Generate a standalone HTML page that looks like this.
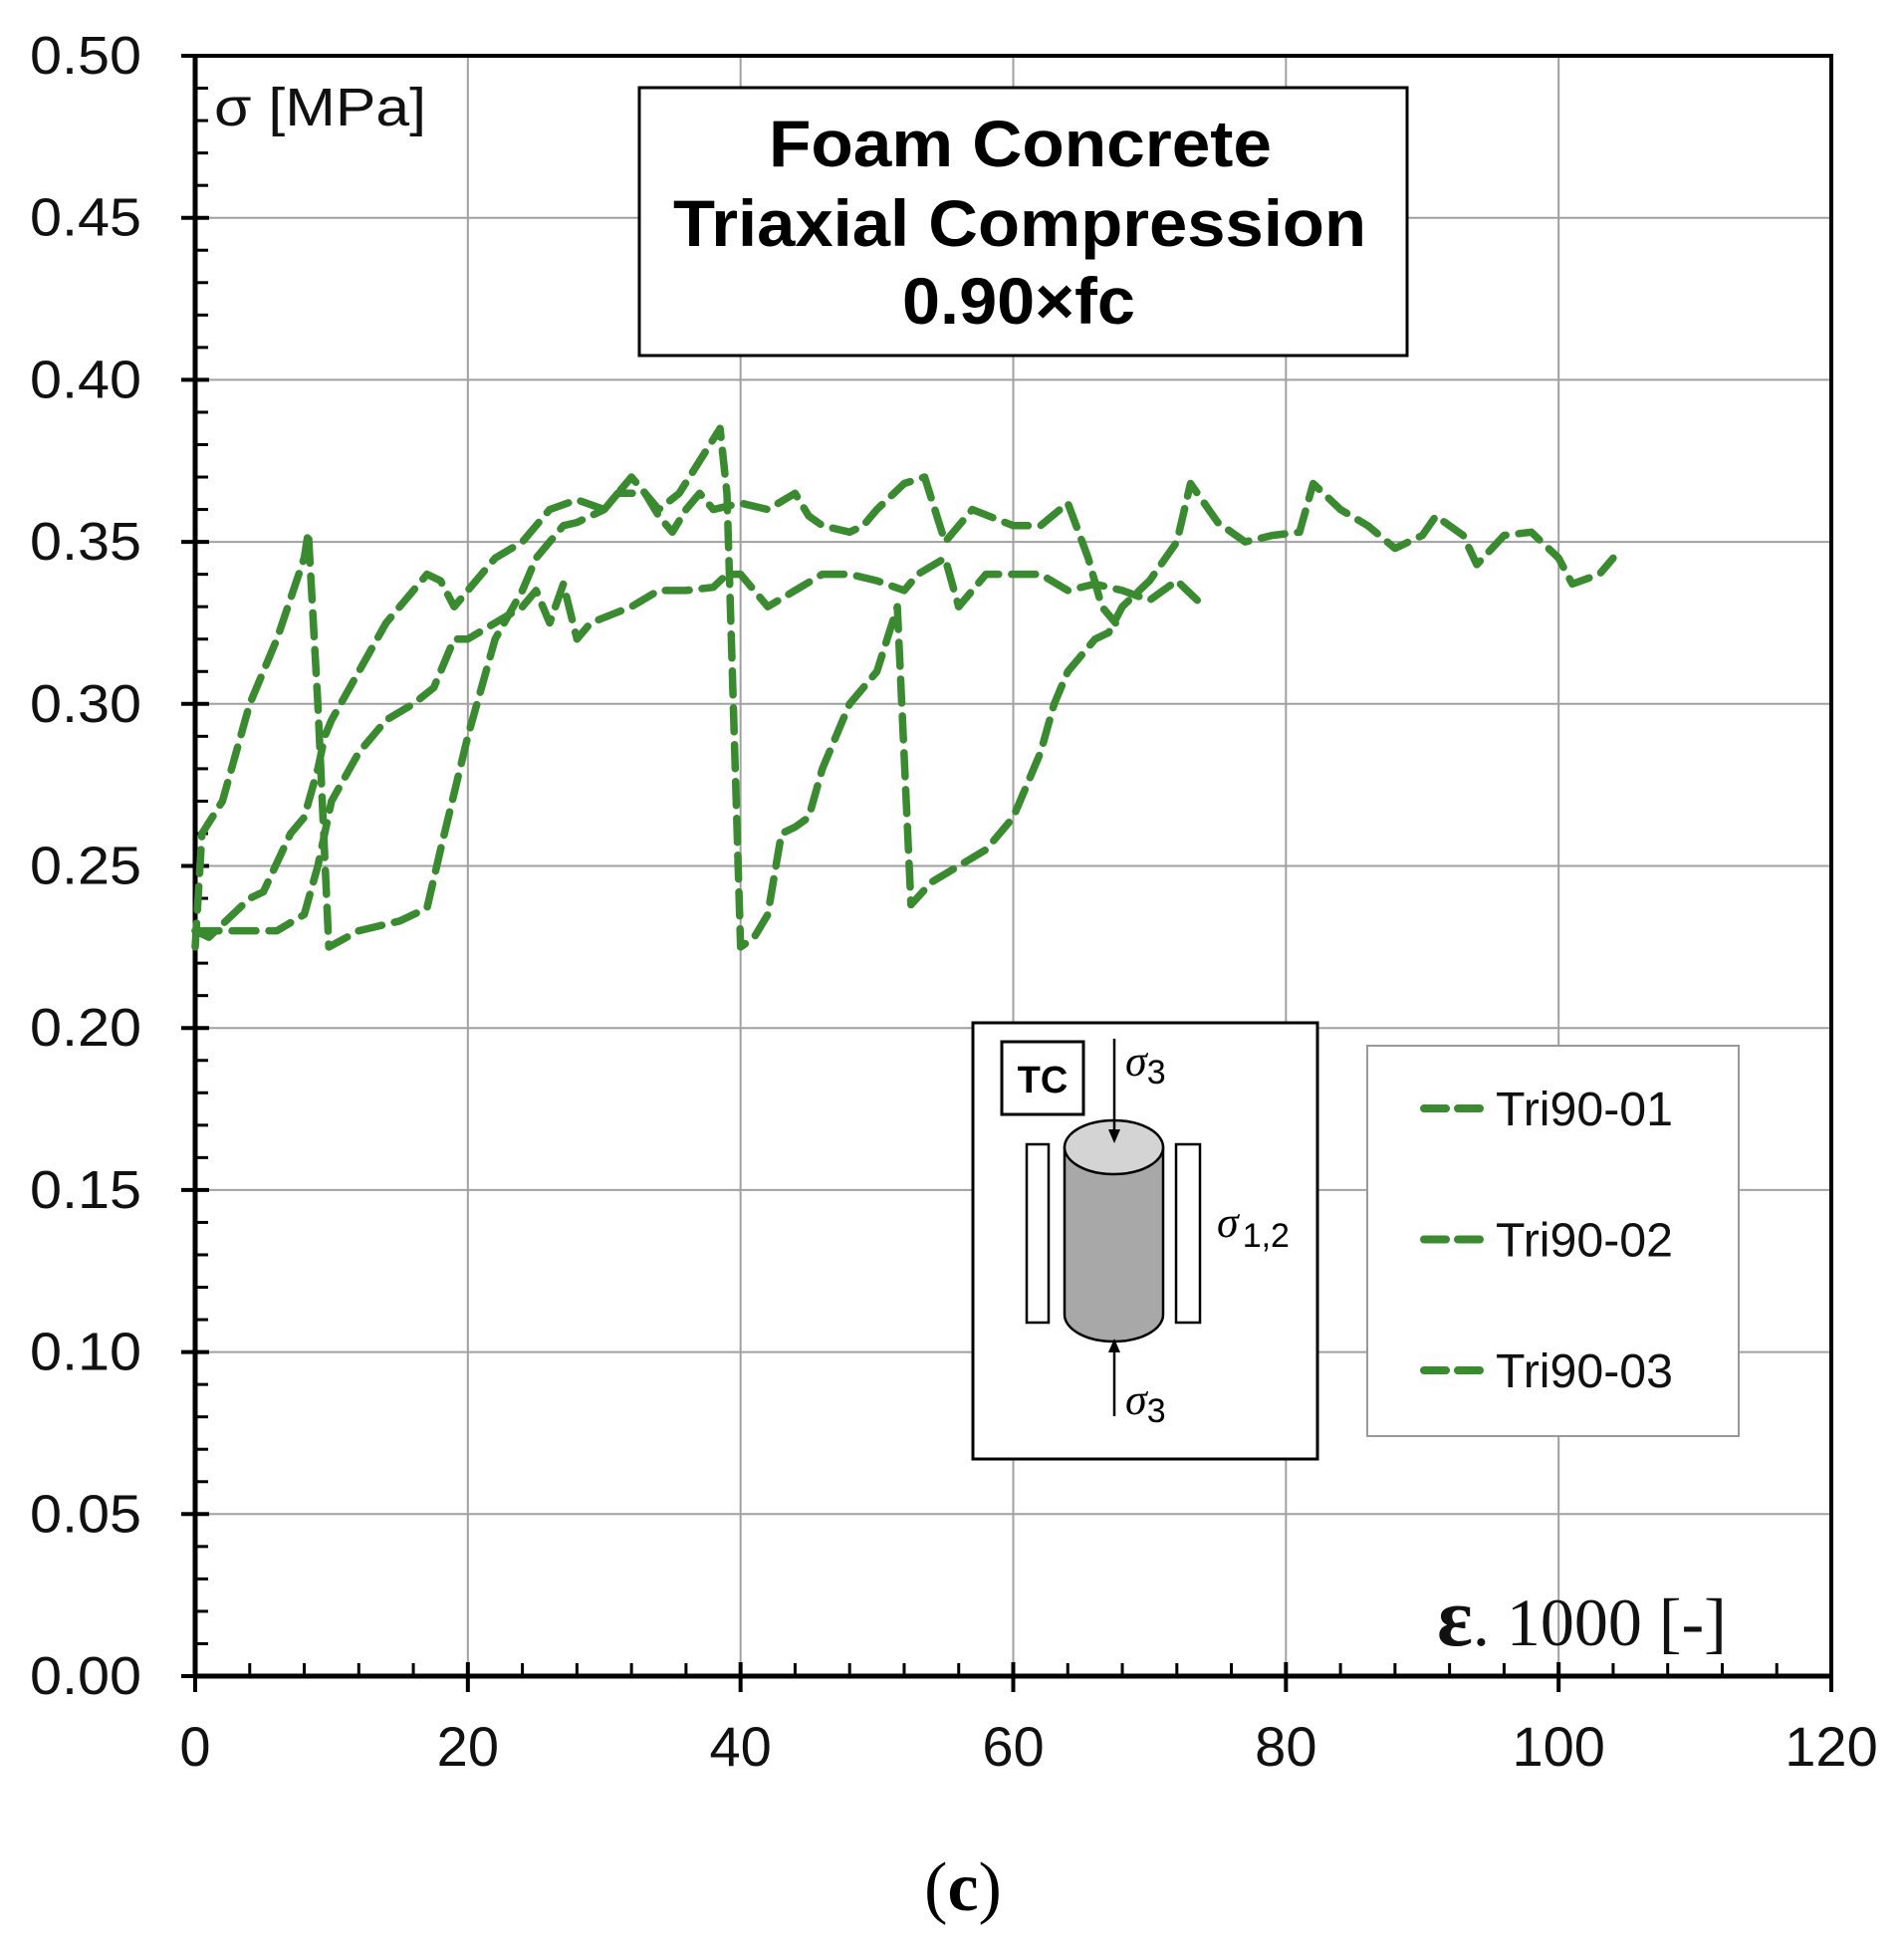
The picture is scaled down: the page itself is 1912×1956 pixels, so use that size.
<!DOCTYPE html>
<html><head><meta charset="utf-8"><style>
html,body{margin:0;padding:0;background:#fff;}
svg{display:block;}
</style></head><body>
<svg id="chart" width="1912" height="1956" viewBox="0 0 1912 1956" xmlns="http://www.w3.org/2000/svg" font-family="'Liberation Sans', Arial, sans-serif">
<rect width="1912" height="1956" fill="#fff"/>
<g id="grid"></g>
<g id="axes"></g>
<g id="series"></g>
<text x="215" y="126" font-size="54" textLength="213" lengthAdjust="spacingAndGlyphs" fill="#111">σ [MPa]</text>
<g>
<rect x="642" y="88" width="771" height="269" fill="#fff" stroke="#000" stroke-width="3"/>
<text x="772" y="167" font-size="66" font-weight="bold" textLength="505" lengthAdjust="spacingAndGlyphs" fill="#000">Foam Concrete</text>
<text x="676" y="247" font-size="66" font-weight="bold" textLength="696" lengthAdjust="spacingAndGlyphs" fill="#000">Triaxial Compression</text>
<text x="906" y="325" font-size="66" font-weight="bold" textLength="234" lengthAdjust="spacingAndGlyphs" fill="#000">0.90×fc</text>
</g>
<g>
<rect x="977" y="1027" width="346" height="438" fill="#fff" stroke="#000" stroke-width="3"/>
<rect x="1006" y="1046" width="82" height="73" fill="#fff" stroke="#000" stroke-width="3"/>
<text x="1047" y="1097" font-size="38" font-weight="bold" text-anchor="middle">TC</text>
<rect x="1031" y="1149" width="22" height="179" fill="#fff" stroke="#000" stroke-width="2.5"/>
<rect x="1181" y="1149" width="24" height="179" fill="#fff" stroke="#000" stroke-width="2.5"/>
<path d="M1069 1152 L1069 1320 A49.5 27 0 0 0 1168 1320 L1168 1152 Z" fill="#a8a8a8" stroke="#000" stroke-width="2.5"/>
<ellipse cx="1118.5" cy="1152" rx="49.5" ry="27" fill="#d4d4d4" stroke="#000" stroke-width="2.5"/>
<line x1="1119" y1="1043" x2="1119" y2="1140" stroke="#000" stroke-width="2.5"/>
<path d="M1113 1134 L1119 1148 L1125 1134 Z" fill="#000"/>
<line x1="1119" y1="1422" x2="1119" y2="1354" stroke="#000" stroke-width="2.5"/>
<path d="M1113 1358 L1119 1344 L1125 1358 Z" fill="#000"/>
<text x="1130" y="1080" font-size="44" font-style="italic" font-family="'Liberation Serif', serif">σ<tspan font-size="34" font-style="normal" font-family="'Liberation Sans', sans-serif" dy="8">3</tspan></text>
<text x="1130" y="1420" font-size="44" font-style="italic" font-family="'Liberation Serif', serif">σ<tspan font-size="34" font-style="normal" font-family="'Liberation Sans', sans-serif" dy="8">3</tspan></text>
<text x="1222" y="1242" font-size="44" font-style="italic" font-family="'Liberation Serif', serif">σ<tspan font-size="34" font-style="normal" font-family="'Liberation Sans', sans-serif" dx="4" dy="10">1,2</tspan></text>
</g>
<g id="legend">
<rect x="1373" y="1050" width="373" height="392" fill="#fff" stroke="#999" stroke-width="2"/>
</g>
<text x="1443" y="1652" font-size="68" font-family="'Liberation Serif', serif" fill="#111"><tspan font-size="84" font-weight="bold">ε</tspan>. 1000 [-]</text>
<text x="967" y="1918" font-size="70" font-family="'Liberation Serif', serif" text-anchor="middle">(<tspan font-weight="bold">c</tspan>)</text>
</svg>
<script>
const xTicks = [0, 20, 40, 60, 80, 100, 120];
const yTicks = [0.00, 0.05, 0.10, 0.15, 0.20, 0.25, 0.30, 0.35, 0.40, 0.45, 0.50];
const seriesNames = ["Tri90-01", "Tri90-02", "Tri90-03"];
const s1x = [0,0.5,2,4,6,8,8.3,9,9.8,12,15,17,18,20,22,24,25,27,28,30,32,34,35.5,37,38.5,39,40,41,42,43,44,45,46,48,50,51.5,52.5,54,56,58,60,62,63,64,66,67,68,70,72,73,75,77,79,81,82,84,86,88,90,91,93,94,96,98,100,101,103,104];
const s1y = [0.225,0.26,0.27,0.30,0.32,0.345,0.353,0.30,0.225,0.23,0.233,0.237,0.255,0.29,0.32,0.335,0.345,0.355,0.356,0.36,0.37,0.36,0.365,0.375,0.385,0.365,0.225,0.228,0.235,0.26,0.262,0.265,0.28,0.30,0.31,0.33,0.238,0.245,0.25,0.255,0.265,0.285,0.30,0.31,0.32,0.322,0.33,0.338,0.35,0.368,0.356,0.35,0.352,0.353,0.368,0.36,0.355,0.348,0.352,0.358,0.352,0.343,0.352,0.353,0.345,0.337,0.34,0.345];
const s2x = [0,3,6,8,9,10,12,14,16,17.5,19,20,22,24,25,26,27,28,29,32,34,36,38,39,40,42,44,46,48,50,52,53,55,56,58,60,62,64,66,68,70,72,73.5];
const s2y = [0.23,0.23,0.23,0.235,0.25,0.27,0.285,0.295,0.30,0.305,0.32,0.32,0.325,0.33,0.335,0.325,0.337,0.32,0.325,0.33,0.335,0.335,0.336,0.34,0.34,0.33,0.335,0.34,0.34,0.338,0.335,0.34,0.345,0.33,0.34,0.34,0.34,0.335,0.337,0.335,0.332,0.338,0.332];
const s3x = [0,1,2,4,5,7,8,9,9.5,10,12,14,16,17,18,19,20,22,24,26,28,30,31,33,34,35,36,37,38,40,42,44,45,46,48,49,50,52,53.5,55,57,60,62,64,65.5,66.5,67.5];
const s3y = [0.23,0.228,0.232,0.24,0.242,0.26,0.265,0.28,0.29,0.295,0.31,0.325,0.335,0.34,0.338,0.33,0.335,0.345,0.35,0.36,0.363,0.36,0.365,0.365,0.358,0.353,0.36,0.365,0.36,0.362,0.36,0.365,0.358,0.355,0.353,0.355,0.36,0.368,0.37,0.35,0.36,0.355,0.355,0.362,0.345,0.33,0.325];

const NS = "http://www.w3.org/2000/svg";
const X0 = 196, X1 = 1839, Y0 = 1683, Y1 = 56;
function xs(v){ return X0 + (v - 0) / 120 * (X1 - X0); }
function ys(v){ return Y0 - (v - 0) / 0.5 * (Y0 - Y1); }
function mk(tag, attrs, parent){
  const e = document.createElementNS(NS, tag);
  for (const k in attrs) e.setAttribute(k, attrs[k]);
  parent.appendChild(e); return e;
}
const grid = document.getElementById('grid');
const axes = document.getElementById('axes');
xTicks.forEach(t => {
  const l = mk('line', {x1: xs(t), x2: xs(t), y1: Y1, y2: Y0, stroke: '#a0a0a0', 'stroke-width': 2}, grid);
  
  
  const tx = mk('text', {x: xs(t), y: 1773, 'font-size': 56, 'text-anchor': 'middle', fill: '#111'}, axes);
  tx.textContent = String(t);
  
  
});
yTicks.forEach(t => {
  const l = mk('line', {x1: X0, x2: X1, y1: ys(t), y2: ys(t), stroke: '#a0a0a0', 'stroke-width': 2}, grid);
  
  
  mk('line', {x1: X0 - 14, x2: X0 + 14, y1: ys(t), y2: ys(t), stroke: '#000', 'stroke-width': 4}, axes);
  const tx = mk('text', {x: 30, y: ys(t) + 18, 'font-size': 54, textLength: 112, lengthAdjust: 'spacingAndGlyphs', fill: '#111'}, axes);
  tx.textContent = t.toFixed(2);
  
  
});
for (let v = 0; v <= 0.5001; v += 0.01) mk('line', {x1: X0, x2: X0 + 13, y1: ys(v), y2: ys(v), stroke: '#000', 'stroke-width': 3}, axes);
for (let v = 0; v <= 120; v += 4) mk('line', {x1: xs(v), x2: xs(v), y1: Y0, y2: Y0 - 13, stroke: '#000', 'stroke-width': 3}, axes);
xTicks.forEach(t => mk('line', {x1: xs(t), x2: xs(t), y1: Y0 - 14, y2: Y0 + 16, stroke: '#000', 'stroke-width': 4}, axes));
mk('rect', {x: X0, y: Y1, width: X1 - X0, height: Y0 - Y1, fill: 'none', stroke: '#000', 'stroke-width': 4}, axes);
mk('line', {x1: X0, x2: X0, y1: Y1, y2: Y0, stroke: '#000', 'stroke-width': 5}, axes);
mk('line', {x1: X0, x2: X1, y1: Y0, y2: Y0, stroke: '#000', 'stroke-width': 5}, axes);

const ser = document.getElementById('series');
const all = [[s1x, s1y], [s2x, s2y], [s3x, s3y]];
all.forEach((s, i) => {
  const d = s[0].map((x, j) => (j ? 'L' : 'M') + xs(x).toFixed(1) + ' ' + ys(s[1][j]).toFixed(1)).join(' ');
  const p = mk('path', {d: d, fill: 'none', stroke: '#3a8a30', 'stroke-width': 7.5, 'stroke-dasharray': '24 13', 'stroke-linecap': 'round', 'stroke-linejoin': 'round'}, ser);
  
  
});
const leg = document.getElementById('legend');
seriesNames.forEach((n, i) => {
  const y = 1113 + i * 131.5;
  const l = mk('line', {x1: 1430, x2: 1493, y1: y, y2: y, stroke: '#3a8a30', 'stroke-width': 8, 'stroke-dasharray': '22 12', 'stroke-linecap': 'round'}, leg);
  
  
  const t = mk('text', {x: 1502, y: y + 17, 'font-size': 48, textLength: 178, lengthAdjust: 'spacingAndGlyphs', fill: '#111'}, leg);
  t.textContent = n;
  
  
});
</script>
</body></html>
